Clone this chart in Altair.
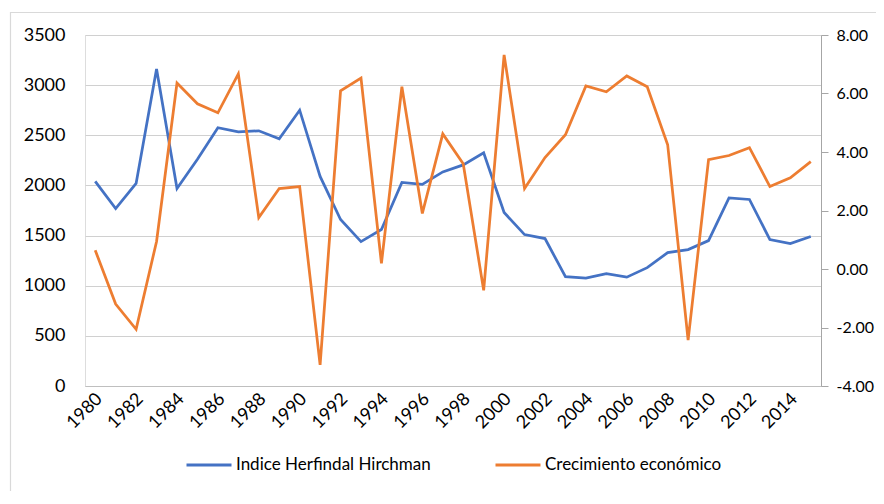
import altair as alt
import pandas as pd

years = list(range(1980, 2016))
hhi = [2040, 1770, 2020, 3160, 1970, 2260, 2575, 2535, 2545, 2465, 2750, 2090,
       1660, 1440, 1560, 2030, 2010, 2135, 2205, 2325, 1730, 1510, 1470, 1090,
       1075, 1120, 1085, 1180, 1330, 1360, 1450, 1875, 1860, 1460, 1420, 1490]
growth = [0.64, -1.20, -2.06, 0.94, 6.36, 5.65, 5.34, 6.67, 1.76, 2.75, 2.82, -3.28,
          6.09, 6.53, 0.19, 6.23, 1.90, 4.62, 3.60, -0.73, 7.32, 2.75, 3.81, 4.59,
          6.26, 6.06, 6.60, 6.23, 4.25, -2.43, 3.74, 3.88, 4.15, 2.82, 3.12, 3.67]
series_names = ["Indice Herfindal Hirchman", "Crecimiento económico"]
series_colors = ["#4472C4", "#ED7D31"]
left_ticks = [0, 500, 1000, 1500, 2000, 2500, 3000, 3500]
right_ticks = [-4, -2, 0, 2, 4, 6, 8]
x_label_years = [y for y in years if y % 2 == 0]

df = pd.DataFrame({
    "year": years * 2,
    "value": hhi + growth,
    "series": [series_names[0]] * len(years) + [series_names[1]] * len(years),
})

FONT = "Lato"
color = alt.Color(
    "series:N",
    scale=alt.Scale(domain=series_names, range=series_colors),
    legend=alt.Legend(
        title=None, orient="none", direction="horizontal",
        legendX=100, legendY=406, labelLimit=400,
        symbolType="stroke", symbolSize=2025, symbolStrokeWidth=3,
        labelFont=FONT, labelFontSize=17, labelColor="#000000",
        labelOffset=3, columnPadding=58,
    ),
)

x = alt.X(
    "year:O", title=None,
    axis=alt.Axis(values=x_label_years, labelAngle=-45, labelAlign="right",
                  labelBaseline="middle", labelFont=FONT, labelFontSize=18,
                  labelColor="#000000", labelPadding=10, labelOffset=4, ticks=False,
                  domainColor="#BFBFBF", domainWidth=1, grid=False),
)

base = alt.Chart(df)

left = base.transform_filter(alt.datum.series == series_names[0]).mark_line(
    strokeWidth=2.75, clip=False
).encode(
    x=x,
    y=alt.Y("value:Q", title=None,
            scale=alt.Scale(domain=[0, 3500], nice=False, zero=False),
            axis=alt.Axis(values=left_ticks, orient="left", format="d", domain=False,
                          ticks=False, labelPadding=20, labelFont=FONT, labelFontSize=18,
                          labelColor="#000000", grid=True, gridColor="#D0D0D0",
                          gridWidth=1)),
    color=color,
)

right = base.transform_filter(alt.datum.series == series_names[1]).mark_line(
    strokeWidth=2.75, clip=False
).encode(
    x=x,
    y=alt.Y("value:Q", title=None,
            scale=alt.Scale(domain=[-4, 8], nice=False, zero=False),
            axis=alt.Axis(values=right_ticks, orient="right",
                          labelExpr="replace(format(datum.value, '.2f'), '\u2212', '-')",
                          domain=True, domainColor="#A6A6A6", ticks=True,
                          tickColor="#A6A6A6", tickSize=7, labelPadding=8,
                          labelFont=FONT, labelFontSize=16, labelColor="#000000",
                          grid=False)),
    color=color,
)

border = alt.Chart(pd.DataFrame({"a": [0]})).mark_rect(
    fill=None, stroke="#D9D9D9", strokeWidth=1.2, clip=False
).encode(
    x=alt.value(-74.5), x2=alt.value(900), y=alt.value(-22.5), y2=alt.value(700)
)

chart = alt.layer(border, left, right).resolve_scale(y="independent").properties(
    width=736, height=351,
    autosize=alt.AutoSizeParams(type="none"),
    padding={"left": 77, "top": 27, "right": 55, "bottom": 105},
).configure_view(stroke=None).configure(background="white")

chart.save("out.html", embed_options={"renderer": "svg", "actions": False})
